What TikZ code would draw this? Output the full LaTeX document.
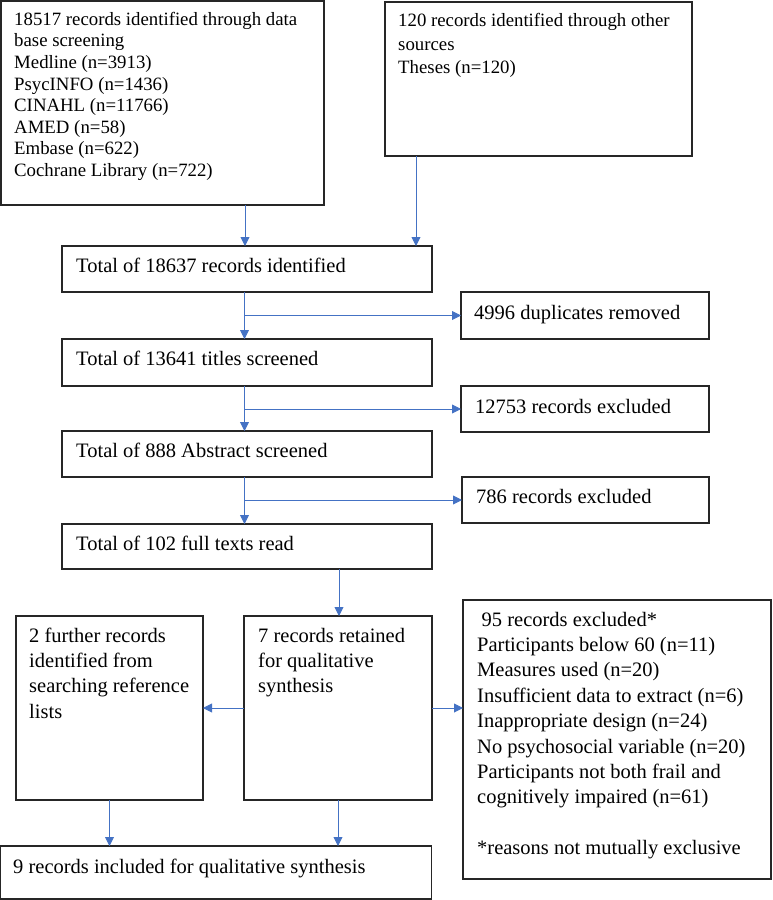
\documentclass[tikz,border=0pt]{standalone}
\usepackage{fontspec}
\setmainfont{Liberation Serif}
\usetikzlibrary{arrows.meta}
\definecolor{arrblue}{HTML}{4472C4}
\newcommand\fsz[1]{\fontsize{18.8}{#1}\selectfont}
\newcommand\fsb[1]{\fontsize{20.5}{#1}\selectfont}
\begin{document}
\begin{tikzpicture}[x=1pt,y=-1pt,
  box/.style={draw=black!85, line width=1.1pt, anchor=north west, inner sep=0pt, outer sep=0pt},
  txt/.style={inner sep=0pt, align=left, anchor=north west},
  one/.style={inner sep=0pt, anchor=base west, font=\fsb{23}},
  arr/.style={draw=arrblue, line width=0.9pt, -{Triangle[length=9pt,width=9pt]}}]
\useasboundingbox (0,0) rectangle (772,900);
% boxes
\node[box, minimum width=323pt, minimum height=204pt] (A) at (1,1) {};
\node[box, minimum width=307pt, minimum height=154pt] (B) at (385,2) {};
\node[box, minimum width=370pt, minimum height=46pt] (C) at (62,246) {};
\node[box, minimum width=248pt, minimum height=47pt] (D) at (461,292) {};
\node[box, minimum width=370pt, minimum height=47pt] (E) at (62,339) {};
\node[box, minimum width=248pt, minimum height=46pt] (F) at (461,386) {};
\node[box, minimum width=370pt, minimum height=46pt] (G) at (62,431) {};
\node[box, minimum width=247pt, minimum height=46pt] (H) at (462,477) {};
\node[box, minimum width=370pt, minimum height=45pt] (I) at (62,524) {};
\node[box, minimum width=187pt, minimum height=184pt] (K) at (16,616) {};
\node[box, minimum width=188pt, minimum height=184pt] (J) at (244,616) {};
\node[box, minimum width=308pt, minimum height=279pt] (L) at (463,600) {};
\node[box, minimum width=431pt, minimum height=53pt] (M) at (0.6,846) {};
% texts
\node[txt, font=\fsz{21.6}] (tA) at (14,9.9) {\strut 18517 records identified through data\\base screening\\Medline (n=3913)\\PsycINFO (n=1436)\\CINAHL (n=11766)\\AMED (n=58)\\Embase (n=622)\\Cochrane Library (n=722)};
\node[txt, font=\fsz{23.5}] (tB) at (398,10.2) {\strut 120 records identified through other\\sources\\Theses (n=120)};
\node[one] (tC) at (76,272) {Total of 18637 records identified};
\node[one] (tD) at (474,319) {4996 duplicates removed};
\node[one] (tE) at (76,365) {Total of 13641 titles screened};
\node[one] (tF) at (475,413) {12753 records excluded};
\node[one] (tG) at (76,457) {Total of 888 Abstract screened};
\node[one] (tH) at (476,503) {786 records excluded};
\node[one] (tI) at (76,550) {Total of 102 full texts read};
\node[txt, font=\fsb{25.4}] (tK) at (29,624.2) {\strut 2 further records\\identified from\\searching reference\\lists};
\node[txt, font=\fsb{25.4}] (tJ) at (258,624.2) {\strut 7 records retained\\for qualitative\\synthesis};
\node[txt, font=\fsb{25.4}] (tL) at (477,608.2) {\strut\hspace*{4.5pt}95 records excluded*\\Participants below 60 (n=11)\\Measures used (n=20)\\Insufficient data to extract (n=6)\\Inappropriate design (n=24)\\No psychosocial variable (n=20)\\Participants not both frail and\\cognitively impaired (n=61)\\[25.4pt]*reasons not mutually exclusive};
\node[one] (tM) at (13,873) {9 records included for qualitative synthesis};
% connector guides
\coordinate (xa) at (245,0);
\coordinate (xb) at (416,0);
\coordinate (xc) at (244.5,0);
\coordinate (xi) at (339,0);
% connectors
\draw[arr] (A.south -| xa) -- (C.north -| xa);
\draw[arr] (B.south -| xb) -- (C.north -| xb);
\draw[arr] (C.south -| xc) -- (E.north -| xc);
\draw[arr] (xc |- D.west) -- (D.west);
\draw[arr] (E.south -| xc) -- (G.north -| xc);
\draw[arr] (xc |- F.west) -- (F.west);
\draw[arr] (G.south -| xc) -- (I.north -| xc);
\draw[arr] (xc |- H.west) -- (H.west);
\draw[arr] (I.south -| xi) -- (J.north -| xi);
\draw[arr] (J.west) -- (K.east);
\draw[arr] (J.east) -- (J.east -| L.west);
\draw[arr] (K.south) -- (K.south |- M.north);
\draw[arr] (J.south) -- (J.south |- M.north);
\end{tikzpicture}
\end{document}
